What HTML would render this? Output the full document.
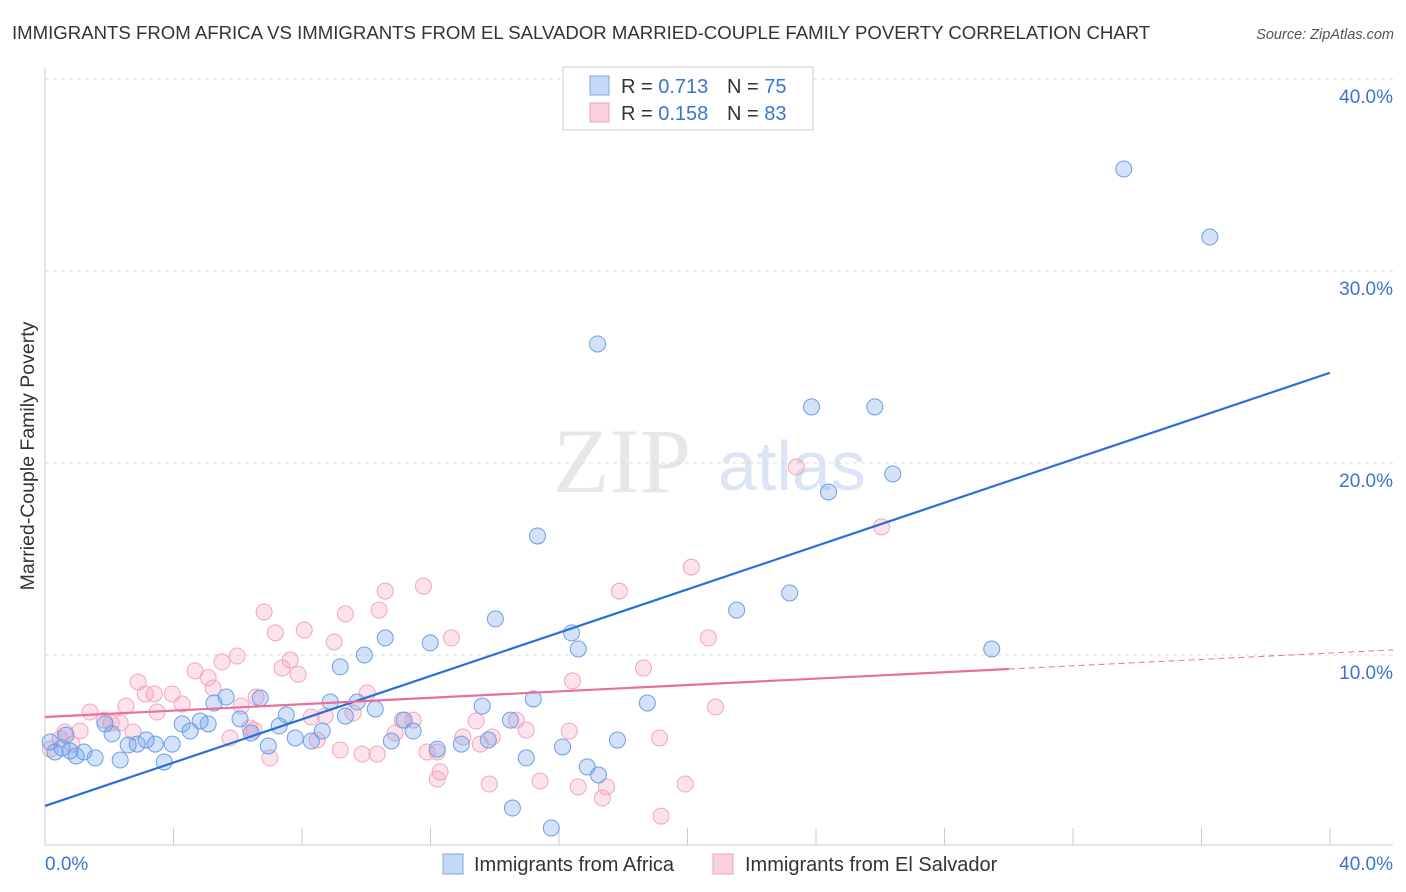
<!DOCTYPE html>
<html><head><meta charset="utf-8"><style>
body{margin:0;background:#fff;font-family:"Liberation Sans",sans-serif;}
#c{position:relative;width:1406px;height:892px;overflow:hidden}
</style></head><body>
<div id="c">
<svg id="svg" width="1406" height="892" xmlns="http://www.w3.org/2000/svg" font-family="Liberation Sans, sans-serif">
<text x="12" y="39" font-size="18.6" fill="#333">IMMIGRANTS FROM AFRICA VS IMMIGRANTS FROM EL SALVADOR MARRIED-COUPLE FAMILY POVERTY CORRELATION CHART</text>
<text x="1394" y="39" font-size="14.5" fill="#555" font-style="italic" text-anchor="end">Source: ZipAtlas.com</text>
<text transform="translate(34,456) rotate(-90)" font-size="19.5" fill="#333" text-anchor="middle">Married-Couple Family Poverty</text>
<g opacity="0.5">
<text x="553" y="492" font-size="92" font-family="Liberation Serif, serif" fill="#d0d0d0">ZIP</text>
<text x="718" y="490" font-size="70" fill="#b8cdec">atlas</text>
</g>
<g id="grid"></g><g id="axes"></g><g id="marks"></g><g id="lines"></g>
<g>
<rect x="563" y="67" width="250" height="63" fill="#fff" stroke="#ccc"/>
<rect x="590" y="76" width="19" height="19" fill="#c5d8f5" stroke="#7da7e8"/>
<rect x="590" y="103" width="19" height="19" fill="#fbd0dd" stroke="#f0a0bc"/>
<text x="621" y="93" font-size="20" fill="#333">R = <tspan fill="#3b74d0">0.713</tspan></text>
<text x="727" y="93" font-size="20" fill="#333">N = <tspan fill="#3b74d0">75</tspan></text>
<text x="621" y="120" font-size="20" fill="#333">R = <tspan fill="#3b74d0">0.158</tspan></text>
<text x="727" y="120" font-size="20" fill="#333">N = <tspan fill="#3b74d0">83</tspan></text>
</g>
<g>
<rect x="443" y="854" width="20" height="20" fill="#c5d8f5" stroke="#7da7e8"/>
<text x="474" y="871" font-size="20" fill="#333">Immigrants from Africa</text>
<rect x="713" y="854" width="20" height="20" fill="#fbd0dd" stroke="#f0a0bc"/>
<text x="745" y="871" font-size="20" fill="#333">Immigrants from El Salvador</text>
</g>
</svg>
</div>
<script>
const yTicks=[10,20,30,40];
const yTickLabels=["10.0%","20.0%","30.0%","40.0%"];
const xTickVals=[0,4,8,12,16,20,24,28,32,36,40];
const blueX=[33.58,36.26,17.20,23.86,25.83,26.39,24.39,15.33,23.18,21.53,14.02,16.39,16.60,29.47,10.59,11.99,9.94,9.19,18.75,15.20,13.61,14.49,13.80,12.96,12.21,11.46,10.78,10.28,9.72,9.35,8.88,8.63,8.29,7.79,7.51,7.29,6.95,6.70,6.42,6.07,5.64,5.26,5.08,4.83,4.52,4.27,3.96,3.71,3.43,3.15,2.87,2.59,2.34,2.09,1.87,1.56,1.21,0.97,0.78,0.53,0.31,0.16,0.65,17.23,16.88,16.11,14.98,14.55,15.76,17.82,11.18];
const blueY=[35.31,31.77,26.20,22.92,22.92,19.43,18.49,16.20,13.23,12.34,11.88,11.15,10.31,10.31,10.89,10.63,10.00,9.38,7.50,7.71,7.34,6.61,5.57,5.36,5.10,6.04,5.52,7.19,7.55,6.82,7.55,6.04,5.52,5.68,6.88,6.30,5.26,7.76,5.94,6.67,7.81,7.50,6.41,6.56,6.04,6.41,5.36,4.43,5.36,5.57,5.36,5.31,4.53,5.89,6.41,4.64,4.95,4.74,5.00,5.16,4.95,5.47,5.83,3.75,4.17,5.21,4.64,2.03,0.99,5.57,6.61];
const pinkX=[23.39,26.04,20.12,11.78,17.88,10.59,6.82,10.40,9.35,8.07,7.17,12.65,9.00,20.65,5.98,7.63,5.51,4.67,18.63,2.90,16.42,5.08,5.23,3.96,3.40,3.12,4.27,2.52,3.49,1.40,6.11,6.57,7.88,7.38,10.03,9.59,8.72,8.29,20.87,1.84,2.06,2.34,2.74,1.09,0.62,0.47,0.84,6.38,5.76,7.00,10.90,11.12,11.46,12.21,11.89,10.34,9.87,9.19,8.47,13.92,13.01,13.42,14.67,14.98,16.32,19.13,13.55,12.30,12.21,13.83,15.41,16.60,17.48,17.35,19.93,19.18,6.51,0.16];
const pinkY=[19.79,16.67,14.58,13.59,13.33,13.33,12.24,12.34,12.14,11.30,11.15,10.89,10.68,10.89,9.95,9.74,9.64,9.17,9.32,8.59,8.65,8.82,8.28,7.97,7.97,7.97,7.45,7.34,7.03,7.03,7.34,7.81,9.00,9.32,8.02,6.98,6.82,6.77,7.29,6.61,6.46,6.46,5.99,6.04,5.99,5.63,5.36,6.20,5.68,4.64,5.94,6.61,6.61,4.95,4.95,4.84,4.84,5.05,5.57,5.73,5.73,6.56,6.61,6.09,6.04,5.68,5.36,3.91,3.54,3.28,3.44,3.13,3.13,2.55,3.28,1.61,6.09,5.10];
const blueTrend=[2.14,24.7];   // y at x=0 and x=40
const pinkTrend=[6.77,9.27,30]; // y at x=0, y at x=30 (solid end)
const NS="http://www.w3.org/2000/svg";
const X=v=>45+v*32.125, Y=v=>847-v*19.2;
function mk(t,a,p){const e=document.createElementNS(NS,t);for(const k in a)e.setAttribute(k,a[k]);document.getElementById(p).appendChild(e);return e;}
yTicks.forEach((t,i)=>{
 const g=mk('line',{x1:45,x2:1393,y1:Y(t),y2:Y(t),stroke:'#ddd','stroke-dasharray':'4,4'},'grid');
 
 
 const l=mk('text',{x:1393,y:Y(t)+24,'font-size':19,fill:'#3b74d0','text-anchor':'end'},'axes');
 l.textContent=yTickLabels[i];
 
 
});
mk('line',{x1:45,x2:45,y1:68,y2:845,stroke:'#ccc'},'axes');
mk('line',{x1:45,x2:1393,y1:845,y2:845,stroke:'#ccc'},'axes');
xTickVals.forEach(t=>{const e=mk('line',{x1:X(t),x2:X(t),y1:828,y2:845,stroke:'#ccc'},'axes');
 
 });
const x0=mk('text',{x:45,y:870,'font-size':19,fill:'#3b74d0'},'axes');x0.textContent='0.0%';


const x1=mk('text',{x:1393,y:870,'font-size':19,fill:'#3b74d0','text-anchor':'end'},'axes');x1.textContent='40.0%';


pinkX.forEach((v,i)=>{const c=mk('circle',{cx:X(v),cy:Y(pinkY[i]),r:8,fill:'rgba(244,160,190,0.3)',stroke:'#f2a6c0','stroke-width':1},'marks');
 
 });
blueX.forEach((v,i)=>{const c=mk('circle',{cx:X(v),cy:Y(blueY[i]),r:8,fill:'rgba(110,160,235,0.3)',stroke:'#6e9ee6','stroke-width':1},'marks');
 
 });
const bl=mk('line',{x1:X(0),y1:Y(blueTrend[0]),x2:X(40),y2:Y(blueTrend[1]),stroke:'#2a6fd6','stroke-width':2.2},'lines');


const slope=(pinkTrend[1]-pinkTrend[0])/pinkTrend[2];
const pl=mk('line',{x1:X(0),y1:Y(pinkTrend[0]),x2:X(pinkTrend[2]),y2:Y(pinkTrend[1]),stroke:'#e8709a','stroke-width':2.2},'lines');


const pd=mk('line',{x1:X(pinkTrend[2]),y1:Y(pinkTrend[1]),x2:1393,y2:Y(pinkTrend[0]+slope*(1393-45)/32.125),stroke:'#e8709a','stroke-width':1,'stroke-dasharray':'6,4'},'lines');


</script>
</body></html>
